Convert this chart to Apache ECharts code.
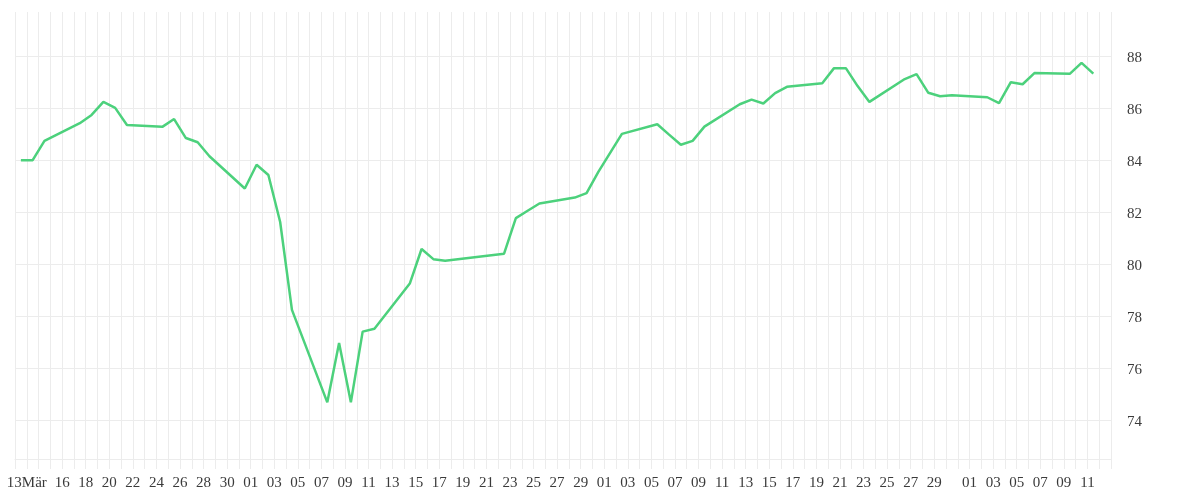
<!DOCTYPE html>
<html>
<head>
<meta charset="utf-8">
<script src="https://cdn.jsdelivr.net/npm/echarts@6/dist/echarts.min.js"></script>
<style>
html,body{margin:0;padding:0;background:#ffffff;}
#chart{width:1200px;height:500px;}
</style>
</head>
<body>
<div id="chart"></div>
<script>
// Trading days (daily closes)
const dates = [
  '2025-03-12','2025-03-13','2025-03-14','2025-03-17','2025-03-18','2025-03-19','2025-03-20','2025-03-21',
  '2025-03-24','2025-03-25','2025-03-26','2025-03-27','2025-03-28','2025-03-31',
  '2025-04-01','2025-04-02','2025-04-03','2025-04-04','2025-04-07','2025-04-08','2025-04-09','2025-04-10','2025-04-11',
  '2025-04-14','2025-04-15','2025-04-16','2025-04-17','2025-04-22','2025-04-23','2025-04-24','2025-04-25',
  '2025-04-28','2025-04-29','2025-04-30','2025-05-02',
  '2025-05-05','2025-05-06','2025-05-07','2025-05-08','2025-05-09',
  '2025-05-12','2025-05-13','2025-05-14','2025-05-15','2025-05-16',
  '2025-05-19','2025-05-20','2025-05-21','2025-05-22','2025-05-23',
  '2025-05-26','2025-05-27','2025-05-28','2025-05-29','2025-05-30',
  '2025-06-02','2025-06-03','2025-06-04','2025-06-05','2025-06-06',
  '2025-06-09','2025-06-10','2025-06-11'
];
const values = [
  84.0, 84.0, 84.74, 85.42, 85.74, 86.24, 86.01, 85.35,
  85.28, 85.58, 84.85, 84.69, 84.15, 82.91,
  83.82, 83.43, 81.62, 78.24, 74.68, 76.96, 74.68, 77.40, 77.51,
  79.25, 80.58, 80.19, 80.13, 80.40, 81.77, 82.05, 82.33,
  82.56, 82.73, 83.55, 85.01,
  85.38, 84.98, 84.59, 84.74, 85.29,
  86.15, 86.33, 86.18, 86.58, 86.82,
  86.96, 87.54, 87.54, 86.85, 86.24,
  87.12, 87.31, 86.59, 86.46, 86.50,
  86.42, 86.19, 87.00, 86.92, 87.35,
  87.32, 87.74, 87.33
];
// x-axis tick labels
const tickDates = [
  '2025-03-13','2025-03-16','2025-03-18','2025-03-20','2025-03-22','2025-03-24','2025-03-26','2025-03-28','2025-03-30',
  '2025-04-01','2025-04-03','2025-04-05','2025-04-07','2025-04-09','2025-04-11','2025-04-13','2025-04-15',
  '2025-04-17','2025-04-19','2025-04-21','2025-04-23','2025-04-25','2025-04-27','2025-04-29',
  '2025-05-01','2025-05-03','2025-05-05','2025-05-07','2025-05-09','2025-05-11','2025-05-13','2025-05-15',
  '2025-05-17','2025-05-19','2025-05-21','2025-05-23','2025-05-25','2025-05-27','2025-05-29',
  '2025-06-01','2025-06-03','2025-06-05','2025-06-07','2025-06-09','2025-06-11'
];
const tickTexts = [
  '13Mär','16','18','20','22','24','26','28','30',
  '01','03','05','07','09','11','13','15',
  '17','19','21','23','25','27','29',
  '01','03','05','07','09','11','13','15',
  '17','19','21','23','25','27','29',
  '01','03','05','07','09','11'
];
const xStart = '2025-03-12';
const xEnd = '2025-06-13';

function ts(s, h) {
  const p = s.split('-').map(Number);
  return new Date(p[0], p[1] - 1, p[2], h || 0).getTime();
}
const labelMap = {};
tickDates.forEach(function (d, i) { labelMap[ts(d)] = tickTexts[i]; });

const gridColor = '#ececec';
const textStyle = { fontFamily: 'Liberation Serif', fontSize: 15, color: '#3a3a3a' };

const chart = echarts.init(document.getElementById('chart'), null, { renderer: 'canvas' });
chart.setOption({
  animation: false,
  backgroundColor: '#ffffff',
  grid: { left: 15, right: 89, top: 12, bottom: 41, containLabel: false, outerBoundsMode: 'none' },
  xAxis: {
    type: 'time',
    min: ts(xStart),
    max: ts(xEnd),
    minInterval: 86400000,
    maxInterval: 86400000,
    splitNumber: 93,
    axisLine: { show: true, lineStyle: { color: gridColor, width: 1 } },
    axisTick: { show: true, length: 10, lineStyle: { color: gridColor, width: 1 } },
    splitLine: { show: true, lineStyle: { color: gridColor, width: 1 } },
    axisLabel: Object.assign({
      margin: 17,
      hideOverlap: false,
      showMinLabel: true,
      showMaxLabel: true,
      formatter: function (value) {
        const dt = new Date(value);
        const k = new Date(dt.getFullYear(), dt.getMonth(), dt.getDate()).getTime();
        if (k !== value) return '';
        return labelMap[k] || '';
      }
    }, textStyle)
  },
  yAxis: {
    type: 'value',
    position: 'right',
    min: 72.5,
    max: 89.7,
    splitNumber: 8,
    axisLine: { show: false },
    axisTick: { show: false },
    splitLine: { show: true, showMaxLine: false, showMinLine: true, lineStyle: { color: gridColor, width: 1 } },
    axisLabel: Object.assign({
      margin: 16,
      showMinLabel: false,
      showMaxLabel: false,
      rich: { v: { fontFamily: 'Liberation Serif', fontSize: 15, color: '#3a3a3a', padding: [4, 0, 0, 0] } },
      formatter: function (v) {
        const r = Math.round(v);
        return (Math.abs(v - r) < 1e-6 && r % 2 === 0) ? '{v|' + r + '}' : '';
      }
    }, textStyle)
  },
  series: [{
    type: 'line',
    data: dates.map(function (d, i) { return [ts(d, 12), values[i]]; }),
    showSymbol: false,
    symbol: 'none',
    lineStyle: { color: '#4cd17c', width: 2.5 },
    itemStyle: { color: '#4cd17c' }
  }]
});
</script>
</body>
</html>
